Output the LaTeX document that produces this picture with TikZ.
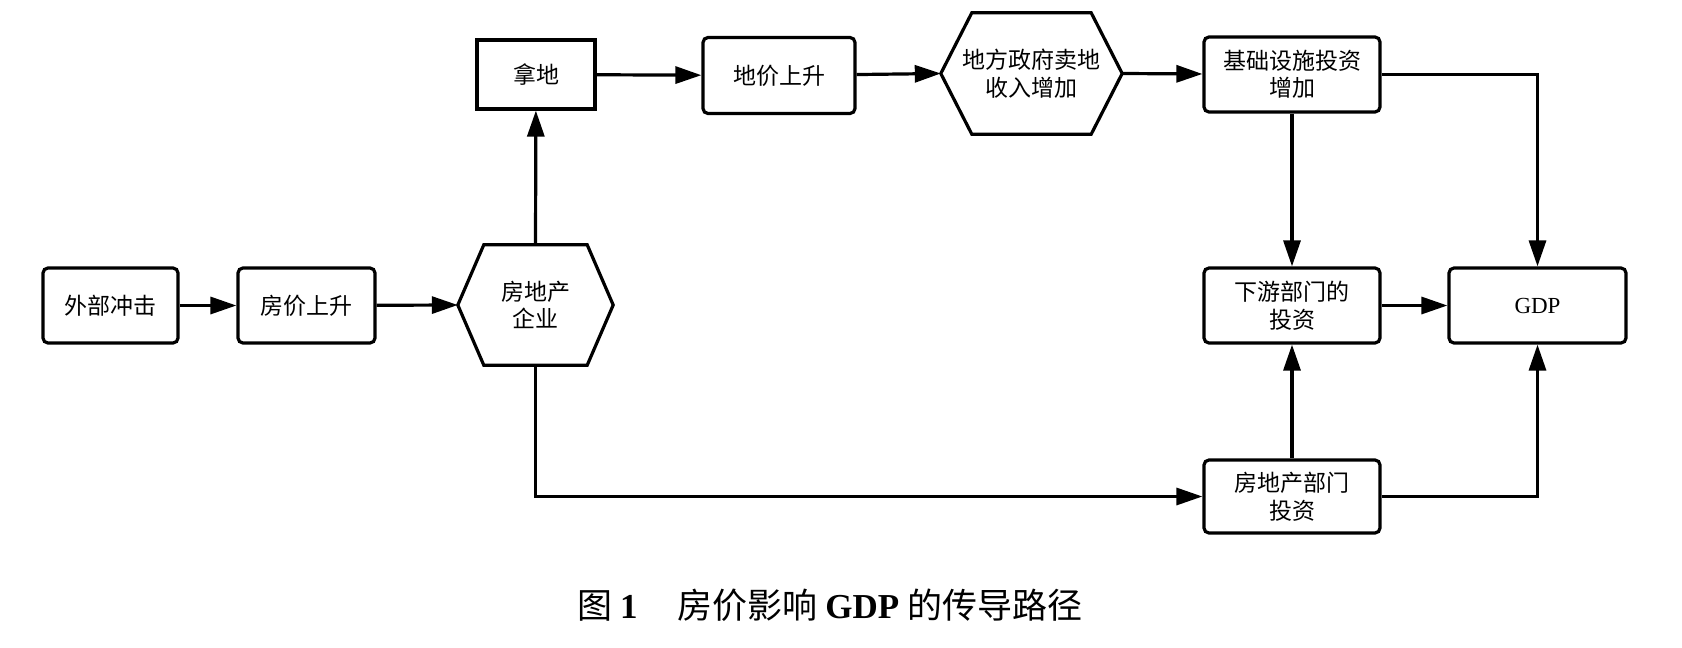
\documentclass[tikz,border=0pt]{standalone}
\usepackage{fontspec}
\setmainfont{Liberation Serif}
\newfontfamily\cjk{Noto Sans CJK SC}
\usetikzlibrary{arrows.meta}
\begin{document}
\begin{tikzpicture}[x=1pt,y=-1pt,
  every node/.style={align=center, inner sep=0pt,
    font=\cjk\fontsize{23}{27.5}\selectfont},
  box/.style={draw, line width=3.2pt, rounded corners=5pt,
    minimum width=#1, minimum height=75pt},
  sqbox/.style={draw, line width=3.2pt, minimum width=118pt, minimum height=69pt},
  hexnode/.style={minimum width=#1, minimum height=120pt},
  hexline/.style={line width=3.2pt, line join=miter},
  flow/.style={line width=3.2pt, -{Triangle[length=26pt,width=17pt]}},
  caption/.style={font=\cjk\fontsize{35}{38}\selectfont}
]
\useasboundingbox (0,0) rectangle (1682,648);

% boxes of the chain
\node[box=135pt] (shock) at (110.5,305.5) {外部冲击};
\node[box=137pt] (price) at (306.5,305.5) {房价上升};
\node[hexnode=155pt] (firm) at (535.5,305) {房地产\\企业};
\node[sqbox] (land) at (536,74.5) {拿地};
\node[box=152pt, minimum height=76pt] (lprice) at (779,75.5) {地价上升};
\node[hexnode=181pt, minimum height=121pt] (gov) at (1031.5,73.5) {地方政府卖地\\收入增加};
\node[box=176pt] (infra) at (1292,74.5) {基础设施投资\\增加};
\node[box=176pt] (down) at (1292,305.5) {下游部门的\\投资};
\node[box=177pt] (gdp) at (1537.5,305.5) {\rmfamily GDP};
\node[box=176pt, minimum height=73pt] (reinv) at (1292,496.5) {房地产部门\\投资};

% hexagon outlines
\draw[hexline] (firm.west) -- ([xshift=26pt]firm.north west) -- ([xshift=-26pt]firm.north east)
  -- (firm.east) -- ([xshift=-26pt]firm.south east) -- ([xshift=26pt]firm.south west) -- cycle;
\draw[hexline] (gov.west) -- ([xshift=31pt]gov.north west) -- ([xshift=-31pt]gov.north east)
  -- (gov.east) -- ([xshift=-31pt]gov.south east) -- ([xshift=31pt]gov.south west) -- cycle;

% connectors
\draw[flow] (shock) -- (price);
\draw[flow] (price) -- (firm.west);
\draw[flow] (firm.north) -- (land);
\draw[flow] (land) -- (lprice);
\draw[flow] (lprice) -- (gov.west);
\draw[flow] (gov.east) -- (infra);
\draw[flow] (infra) -- (down);
\draw[flow] (infra.east) -| (gdp.north);
\draw[flow] (down) -- (gdp);
\draw[flow] (reinv) -- (down);
\draw[flow] (reinv.east) -| (gdp.south);
\draw[flow] (firm.south) |- (reinv.west);

% caption
\node[caption, anchor=west] (cap) at (577,605)
  {图 {\rmfamily\bfseries 1}\hspace{40pt}房价影响 {\rmfamily\bfseries GDP} 的传导路径};
\end{tikzpicture}
\end{document}
